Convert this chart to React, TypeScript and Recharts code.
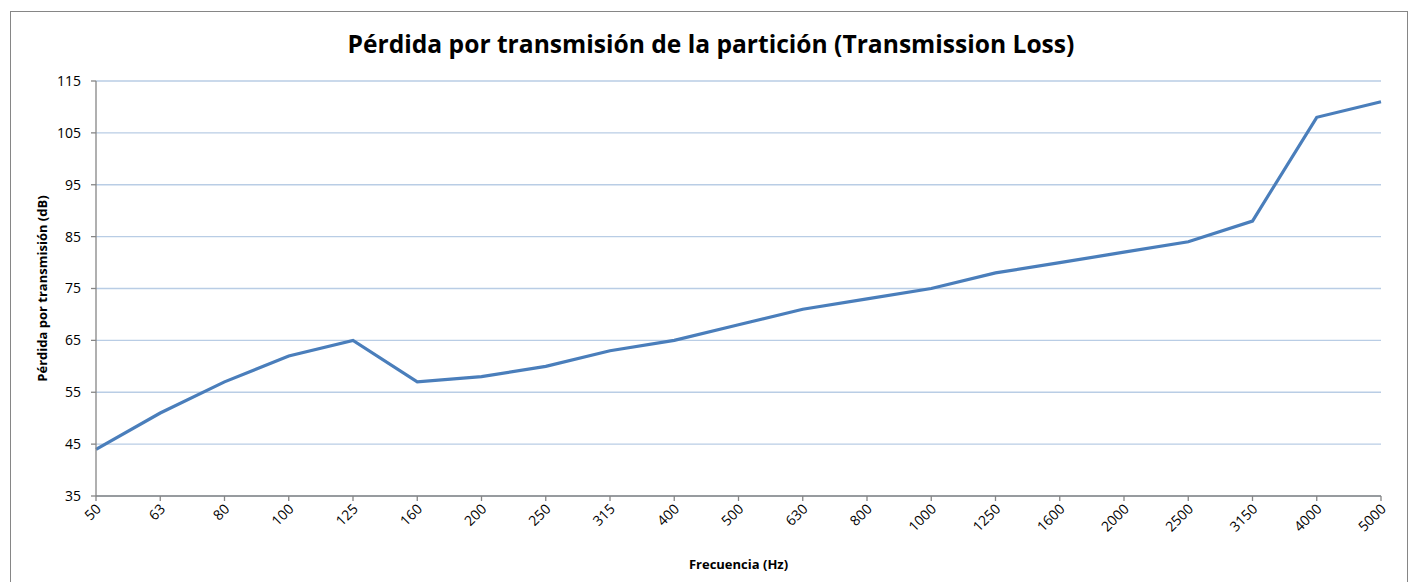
import React from 'react';
import { LineChart, Line, XAxis, YAxis, CartesianGrid } from 'recharts';

const frequencies = ['50', '63', '80', '100', '125', '160', '200', '250', '315', '400', '500', '630', '800', '1000', '1250', '1600', '2000', '2500', '3150', '4000', '5000'];
const transmissionLoss = [44, 51, 57, 62, 65, 57, 58, 60, 63, 65, 68, 71, 73, 75, 78, 80, 82, 84, 88, 108, 111];
const yTicks = [35, 45, 55, 65, 75, 85, 95, 105, 115];

const FONT = '"Open Sans", Lato, sans-serif';
const AXIS = '#868686';

const data = frequencies.map((f, i) => ({ f, tl: transmissionLoss[i] }));

const XTick = (props: any) => {
  const { x, y, payload } = props;
  return (
    <g transform={`translate(${x + 3},${y + 4})`}>
      <text transform="rotate(-45)" textAnchor="end" dy={4} fontSize={14} fill="#000" fontFamily={FONT}>
        {payload.value}
      </text>
    </g>
  );
};

export default function App() {
  return (
    <div style={{ position: 'absolute', left: 0, top: 0, width: 1413, height: 582, overflow: 'hidden', background: '#fff', fontFamily: FONT }}>
      <div style={{ position: 'absolute', left: 10, top: 11, width: 1396, height: 600, border: `1px solid ${AXIS}` }} />
      <div style={{ position: 'absolute', left: 0, top: 27, width: 1422, textAlign: 'center', fontSize: 24.6, fontWeight: 700, color: '#000' }}>
        Pérdida por transmisión de la partición (Transmission Loss)
      </div>
      <div style={{ position: 'absolute', left: 0, top: 0 }}>
        <LineChart width={1413} height={582} data={data} margin={{ top: 81, right: 32, bottom: 0, left: 36 }}>
          <CartesianGrid vertical={false} stroke="#b9cde5" strokeWidth={1.3} />
          <XAxis
            dataKey="f"
            height={86}
            stroke={AXIS}
            strokeWidth={1.3}
            tickSize={5}
            tick={<XTick />}
            interval={0}
            label={{ value: 'Frecuencia (Hz)', position: 'insideBottom', offset: 13, fontSize: 13, fontWeight: 700, fill: '#000', fontFamily: FONT }}
          />
          <YAxis
            domain={[35, 115]}
            ticks={yTicks}
            width={60}
            stroke={AXIS}
            strokeWidth={1.3}
            tickSize={5}
            tickMargin={10}
            tick={{ fontSize: 14, fill: '#000', fontFamily: FONT }}
            label={{ value: 'Pérdida por transmisión (dB)', angle: -90, position: 'insideLeft', offset: 6, fontSize: 13, fontWeight: 700, fill: '#000', fontFamily: FONT, style: { textAnchor: 'middle' } }}
          />
          <Line type="linear" dataKey="tl" stroke="#4a7ebb" strokeWidth={3.2} dot={false} isAnimationActive={false} />
        </LineChart>
      </div>
    </div>
  );
}
